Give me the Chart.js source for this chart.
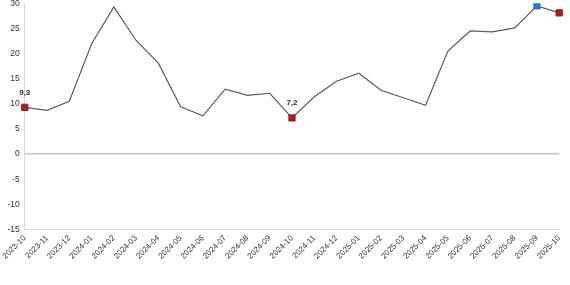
<!DOCTYPE html>
<html>
<head>
<meta charset="utf-8">
<script src="https://cdn.jsdelivr.net/npm/chart.js@4/dist/chart.umd.min.js"></script>
<style>
  html, body { margin: 0; padding: 0; background: #fff; overflow: hidden; }
  /* pulled up a little so the top tick label hangs off the edge like the original */
  #wrap { width: 570px; height: 287px; margin-top: -2px; }
</style>
</head>
<body>
<div id="wrap"><canvas id="chart"></canvas></div>
<script>
// Data
const months = ['2023-10', '2023-11', '2023-12', '2024-01', '2024-02', '2024-03', '2024-04', '2024-05',
    '2024-06', '2024-07', '2024-08', '2024-09', '2024-10', '2024-11', '2024-12', '2025-01', '2025-02',
    '2025-03', '2025-04', '2025-05', '2025-06', '2025-07', '2025-08', '2025-09', '2025-10'];
const values = [9.3, 8.7, 10.5, 21.9, 29.3, 22.6, 18.1, 9.4, 7.6, 12.9, 11.7, 12.1, 7.2, 11.4, 14.5,
    16.1, 12.7, 11.2, 9.7, 20.5, 24.5, 24.3, 25.1, 29.5, 28.1];
const yTicks = [-15, -10, -5, 0, 5, 10, 15, 20, 25, 30];
const redPoints = [0, 12, 24];
const bluePoints = [23];
const labelledPoints = [0, 12];

const RED = '#b01e23';
const BLUE = '#2f7bbf';

function pointRadius(ctx) {
    const i = ctx.dataIndex;
    return (redPoints.includes(i) || bluePoints.includes(i)) ? 4.5 : 0;
}
function pointColor(ctx) {
    return bluePoints.includes(ctx.dataIndex) ? BLUE : RED;
}
function pointBorder(ctx) {
    return bluePoints.includes(ctx.dataIndex) ? '#2a6aa5' : '#7e1518';
}

// value labels above selected points
const valueLabels = {
    id: 'valueLabels',
    afterDatasetsDraw(chart) {
        const c = chart.ctx;
        const meta = chart.getDatasetMeta(0);
        c.save();
        c.font = 'bold 8px "Liberation Sans", sans-serif';
        c.fillStyle = '#333';
        c.textAlign = 'center';
        c.textBaseline = 'bottom';
        labelledPoints.forEach(i => {
            const p = meta.data[i];
            c.fillText(String(values[i]).replace('.', ','), p.x, p.y - 11);
        });
        c.restore();
    }
};

new Chart(document.getElementById('chart'), {
    type: 'line',
    data: {
        labels: months,
        datasets: [{
            data: values,
            borderColor: '#4f5f6e',
            borderWidth: 1.2,
            tension: 0,
            pointStyle: 'rect',
            pointRadius: pointRadius,
            pointBackgroundColor: pointColor,
            pointBorderColor: pointBorder,
            pointBorderWidth: 0.8
        }]
    },
    options: {
        responsive: true,
        maintainAspectRatio: false,
        animation: false,
        layout: { padding: { top: 1, right: 2, left: 0, bottom: 20 } },
        plugins: {
            legend: { display: false },
            tooltip: { enabled: false }
        },
        scales: {
            x: {
                offset: false,
                grid: { display: false, drawTicks: false },
                border: { display: true, color: '#d9d9d9', width: 1 },
                ticks: {
                    color: '#333',
                    font: { family: '"Liberation Sans", sans-serif', size: 8 },
                    minRotation: 45,
                    maxRotation: 45,
                    autoSkip: false,
                    padding: 4
                }
            },
            y: {
                min: -15,
                max: 30,
                afterBuildTicks(scale) {
                    scale.ticks = yTicks.map(v => ({ value: v }));
                },
                afterFit(scale) {
                    scale.paddingTop = 0;
                    scale.paddingBottom = 0;
                },
                grid: {
                    drawTicks: false,
                    color: ctx => (ctx.tick && ctx.tick.value === 0) ? '#c4c4c4' : 'rgba(0,0,0,0)',
                    lineWidth: ctx => (ctx.tick && ctx.tick.value === 0) ? 1.6 : 0
                },
                border: { display: true, color: '#d9d9d9', width: 1 },
                ticks: {
                    color: '#333',
                    font: { family: '"Liberation Sans", sans-serif', size: 8.5 },
                    padding: 5
                }
            }
        }
    },
    plugins: [valueLabels]
});
</script>
</body>
</html>
